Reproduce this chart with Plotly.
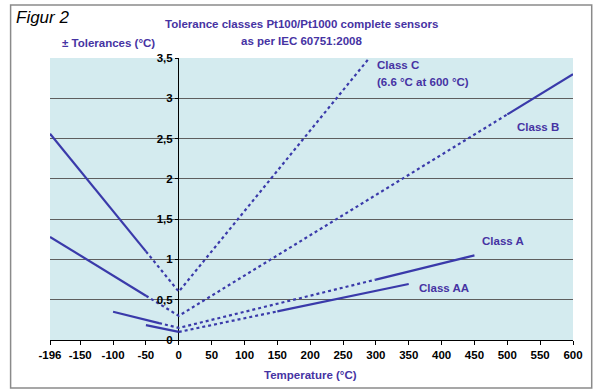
import plotly.graph_objects as go

# ---- data ----
# Class C
c_solid_t = [-196, -50]
c_solid_v = [2.56, 1.10]
c_dot_t = [-50, 0, 290]
c_dot_v = [1.10, 0.60, 3.50]
# Class B
b_solid1_t = [-196, -50]
b_solid1_v = [1.28, 0.55]
b_dot_t = [-50, 0, 500]
b_dot_v = [0.55, 0.30, 2.80]
b_solid2_t = [500, 600]
b_solid2_v = [2.80, 3.30]
# Class A
a_solid1_t = [-100, -30]
a_solid1_v = [0.35, 0.21]
a_dot_t = [-30, 0, 300]
a_dot_v = [0.21, 0.15, 0.75]
a_solid2_t = [300, 450]
a_solid2_v = [0.75, 1.05]
# Class AA
aa_solid1_t = [-50, 0]
aa_solid1_v = [0.185, 0.10]
aa_dot_t = [0, 150]
aa_dot_v = [0.10, 0.355]
aa_solid2_t = [150, 350]
aa_solid2_v = [0.355, 0.695]

x_tickvals = [-196, -150, -100, -50, 0, 50, 100, 150, 200, 250, 300, 350, 400, 450, 500, 550, 600]
x_ticktext = [str(v) for v in x_tickvals]
y_tickvals = [0, 0.5, 1, 1.5, 2, 2.5, 3, 3.5]

LINE = "#3a3aaa"
TXT = "#4633a3"
FONT = "Arial, Liberation Sans, sans-serif"

segments = [
    (c_solid_t, c_solid_v, "solid"), (c_dot_t, c_dot_v, "dot"),
    (b_solid1_t, b_solid1_v, "solid"), (b_dot_t, b_dot_v, "dot"), (b_solid2_t, b_solid2_v, "solid"),
    (a_solid1_t, a_solid1_v, "solid"), (a_dot_t, a_dot_v, "dot"), (a_solid2_t, a_solid2_v, "solid"),
    (aa_solid1_t, aa_solid1_v, "solid"), (aa_dot_t, aa_dot_v, "dot"), (aa_solid2_t, aa_solid2_v, "solid"),
]

fig = go.Figure()
for t, v, dash in segments:
    fig.add_trace(go.Scatter(x=t, y=v, mode="lines", showlegend=False, hoverinfo="skip",
                             line=dict(color=LINE, width=2.2, dash=dash)))

fig.update_layout(
    width=595, height=390,
    margin=dict(l=50, r=14, t=58, b=50),
    paper_bgcolor="white",
    plot_bgcolor="#d4ebef",
    separators=",.",
    font=dict(family=FONT, size=11, color="black"),
    xaxis=dict(range=[-196, 600], tickvals=x_tickvals, ticktext=x_ticktext,
               showgrid=False, zeroline=True, zerolinecolor="black", zerolinewidth=1,
               showline=True, linecolor="black", linewidth=1,
               ticks="outside", ticklen=4, tickcolor="black",
               tickfont=dict(family=FONT, size=11.5, color="black", weight="bold")),
    yaxis=dict(range=[0, 3.5], tickvals=y_tickvals, anchor="free", position=0.2467,
               showgrid=True, gridcolor="#5e5e5e", gridwidth=1.2,
               zeroline=False, showline=False,
               ticks="outside", ticklen=4, tickcolor="black",
               tickfont=dict(family=FONT, size=11.5, color="black", weight="bold")),
)

def ann(text, x, y, xanchor="left", xref="paper", yref="paper", size=11.5, color=TXT, weight="bold", style="normal"):
    fig.add_annotation(text=text, x=x, y=y, xref=xref, yref=yref, xanchor=xanchor, yanchor="middle",
                       showarrow=False, font=dict(family=FONT, size=size, color=color, weight=weight, style=style))

ann("Tolerance classes Pt100/Pt1000 complete sensors", 0.481, 1.1206, xanchor="center")
ann("as per IEC 60751:2008", 0.481, 1.062, xanchor="center")
ann("± Tolerances (°C)", 0.0188, 1.053)
ann("Figur 2", -0.0697, 1.142, size=17, color="black", weight="normal", style="italic")
ann("Temperature (°C)", 0.499, -0.124, xanchor="center")

ann("Class C", 299, 3.413, xref="x", yref="y")
ann("(6.6 °C at 600 °C)", 299, 3.206, xref="x", yref="y")
ann("Class B", 512, 2.644, xref="x", yref="y")
ann("Class A", 459, 1.229, xref="x", yref="y")
ann("Class AA", 363, 0.645, xref="x", yref="y")

# outer frame
fig.add_shape(type="rect", xref="paper", yref="paper",
              x0=(10 - 50) / 531, x1=(600 - 50) / 531, y0=(340 - 388) / 282, y1=(340 - 5) / 282,
              line=dict(color="#8a8a8a", width=1.5), layer="below")

fig.write_html("out.html", config={"displayModeBar": False},
               post_script="document.body.style.margin='0';")
